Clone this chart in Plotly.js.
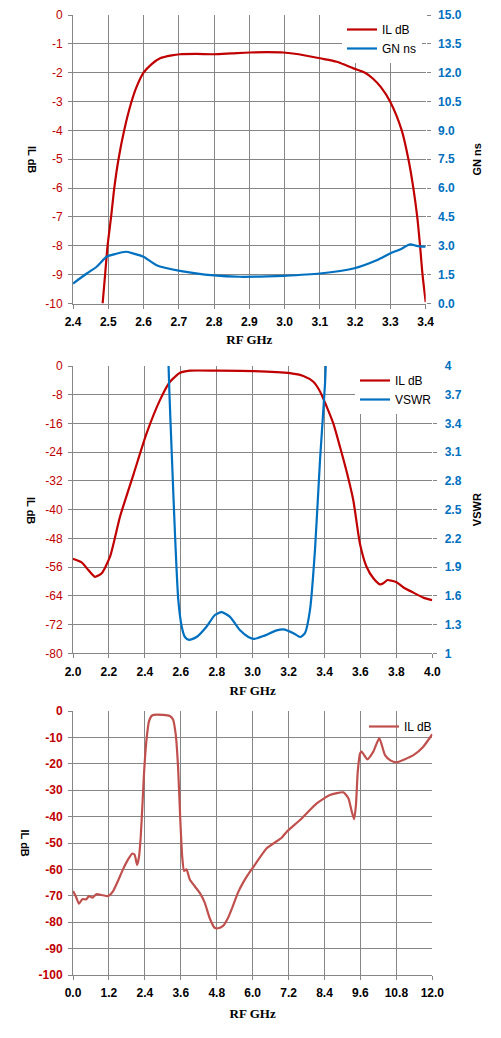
<!DOCTYPE html>
<html>
<head>
<meta charset="utf-8">
<script src="https://cdn.plot.ly/plotly-3.0.1.min.js"></script>
<style>html,body{margin:0;padding:0;background:#fff;}#chart{width:501px;height:1038px;}</style>
</head>
<body>
<div id="chart"></div>
<script>
// ---------- Chart 1: IL dB and GN ns, 2.4 - 3.4 GHz ----------
const il1X = [2.484, 2.491, 2.498, 2.508, 2.517, 2.529, 2.545, 2.566, 2.580, 2.600, 2.623, 2.647, 2.680, 2.703, 2.750, 2.800, 2.850, 2.900, 2.950, 2.996, 3.040, 3.100, 3.148, 3.195, 3.228, 3.250, 3.273, 3.299, 3.332, 3.351, 3.365, 3.376, 3.384, 3.391, 3.400];
const il1Y = [-10.0, -9.0, -8.0, -7.0, -6.0, -5.0, -4.0, -3.0, -2.5, -2.0, -1.7, -1.5, -1.40, -1.36, -1.35, -1.36, -1.33, -1.30, -1.29, -1.30, -1.36, -1.50, -1.62, -1.85, -2.0, -2.2, -2.5, -3.0, -4.0, -5.0, -6.0, -7.0, -8.0, -9.0, -9.95];
const gn1X = [2.400, 2.439, 2.467, 2.495, 2.519, 2.550, 2.571, 2.600, 2.637, 2.703, 2.800, 2.873, 2.950, 2.996, 3.100, 3.195, 3.261, 3.299, 3.327, 3.356, 3.374, 3.400];
const gn1Y = [1.04, 1.56, 1.91, 2.43, 2.57, 2.69, 2.60, 2.43, 1.99, 1.70, 1.46, 1.39, 1.41, 1.44, 1.56, 1.82, 2.25, 2.60, 2.81, 3.07, 3.00, 2.95];

// ---------- Chart 2: IL dB and VSWR, 2.0 - 4.0 GHz ----------
const il2X = [2.000, 2.048, 2.085, 2.122, 2.160, 2.206, 2.262, 2.336, 2.410, 2.484, 2.540, 2.596, 2.651, 2.800, 3.004, 3.208, 3.282, 3.338, 3.375, 3.412, 3.449, 3.486, 3.523, 3.560, 3.597, 3.634, 3.672, 3.709, 3.727, 3.750, 3.774, 3.801, 3.838, 3.894, 3.950, 4.000];
const il2Y = [-53.7, -54.7, -56.8, -58.7, -57.7, -53.1, -41.9, -30.3, -18.7, -9.5, -4.4, -1.9, -1.3, -1.3, -1.4, -2.0, -2.8, -4.4, -7.1, -11.3, -16.0, -22.5, -29.4, -37.3, -49.4, -55.9, -59.1, -60.8, -60.5, -59.6, -59.8, -60.2, -61.6, -63.1, -64.5, -65.2];
const vswrX = [2.527, 2.537, 2.549, 2.568, 2.586, 2.605, 2.623, 2.646, 2.688, 2.744, 2.790, 2.827, 2.874, 2.930, 2.976, 3.007, 3.059, 3.134, 3.171, 3.227, 3.264, 3.291, 3.319, 3.347, 3.375, 3.403, 3.412];
const vswrY = [4.30, 3.70, 3.12, 2.23, 1.56, 1.28, 1.17, 1.14, 1.17, 1.28, 1.40, 1.43, 1.38, 1.24, 1.17, 1.15, 1.18, 1.24, 1.25, 1.21, 1.17, 1.21, 1.45, 2.08, 3.02, 3.82, 4.30];

// ---------- Chart 3: IL dB, 0 - 12 GHz ----------
const il3X = [0.00, 0.09, 0.20, 0.31, 0.45, 0.53, 0.65, 0.78, 1.00, 1.17, 1.34, 1.50, 1.67, 1.84, 1.98, 2.06, 2.14, 2.20, 2.26, 2.32, 2.37, 2.45, 2.54, 2.65, 3.01, 3.23, 3.34, 3.43, 3.51, 3.58, 3.65, 3.71, 3.79, 3.90, 4.06, 4.23, 4.40, 4.56, 4.73, 4.84, 5.01, 5.18, 5.34, 5.51, 5.68, 5.85, 6.01, 6.47, 6.97, 7.14, 7.58, 8.14, 8.58, 9.03, 9.20, 9.31, 9.39, 9.45, 9.51, 9.59, 9.64, 9.83, 10.03, 10.23, 10.42, 10.60, 10.81, 11.37, 11.70, 12.00];
const il3Y = [-68.2, -70.1, -73.0, -71.3, -71.3, -70.1, -70.7, -69.4, -69.8, -70.1, -68.2, -64.4, -60.0, -56.2, -54.0, -54.5, -58.3, -55.6, -48.0, -35.4, -24.0, -11.4, -3.8, -1.6, -1.5, -1.9, -3.2, -8.8, -21.5, -40.4, -55.6, -60.6, -60.0, -63.8, -66.3, -68.8, -72.6, -78.3, -82.1, -82.3, -81.4, -78.3, -73.9, -68.8, -65.0, -61.9, -59.3, -52.0, -48.0, -45.7, -41.3, -35.0, -31.8, -30.8, -33.1, -38.1, -41.0, -35.6, -23.0, -16.0, -15.4, -18.3, -15.4, -10.3, -16.7, -18.7, -19.4, -16.7, -13.5, -8.8];

// ---------- Tick labels ----------
const y1TickVals = [-10, -9, -8, -7, -6, -5, -4, -3, -2, -1, 0];
const y1TickText = ['-10', '-9', '-8', '-7', '-6', '-5', '-4', '-3', '-2', '-1', '0'];
const y2TickVals = [0, 1.5, 3, 4.5, 6, 7.5, 9, 10.5, 12, 13.5, 15];
const y2TickText = ['0.0', '1.5', '3.0', '4.5', '6.0', '7.5', '9.0', '10.5', '12.0', '13.5', '15.0'];
const y3TickVals = [-80, -72, -64, -56, -48, -40, -32, -24, -16, -8, 0];
const y3TickText = ['-80', '-72', '-64', '-56', '-48', '-40', '-32', '-24', '-16', '-8', '0'];
const y4TickVals = [1, 1.3, 1.6, 1.9, 2.2, 2.5, 2.8, 3.1, 3.4, 3.7, 4];
const y4TickText = ['1', '1.3', '1.6', '1.9', '2.2', '2.5', '2.8', '3.1', '3.4', '3.7', '4'];
const y5TickVals = [-100, -90, -80, -70, -60, -50, -40, -30, -20, -10, 0];
const y5TickText = ['-100', '-90', '-80', '-70', '-60', '-50', '-40', '-30', '-20', '-10', '0'];

const RED = '#C00000', BLUE = '#0070C0', RED3 = '#C0504D', GRID = '#868686';
const FONT = 'Liberation Sans, Arial, sans-serif';
const SERIF = 'Liberation Serif, Times New Roman, serif';

const traces = [
  {x: il1X, y: il1Y, xaxis: 'x', yaxis: 'y', name: 'IL dB', mode: 'lines', line: {color: RED, width: 2.2, shape: 'spline', smoothing: 0.7}, legend: 'legend'},
  {x: gn1X, y: gn1Y, xaxis: 'x', yaxis: 'y2', name: 'GN ns', mode: 'lines', line: {color: BLUE, width: 2.2, shape: 'spline', smoothing: 0.7}, legend: 'legend'},
  {x: il2X, y: il2Y, xaxis: 'x2', yaxis: 'y3', name: 'IL dB', mode: 'lines', line: {color: RED, width: 2.2, shape: 'spline', smoothing: 0.6}, legend: 'legend2'},
  {x: vswrX, y: vswrY, xaxis: 'x2', yaxis: 'y4', name: 'VSWR', mode: 'lines', line: {color: BLUE, width: 2.2, shape: 'spline', smoothing: 0.6}, legend: 'legend2'},
  {x: il3X, y: il3Y, xaxis: 'x3', yaxis: 'y5', name: 'IL dB', mode: 'lines', line: {color: RED3, width: 2.2, shape: 'spline', smoothing: 0.5}, legend: 'legend3'}
];

function xAx(dom, anchor, range, dtick, title, standoff) {
  return {
    domain: dom, anchor: anchor, range: range, tick0: range[0], dtick: dtick, tickformat: '.1f',
    showgrid: true, gridcolor: GRID, gridwidth: 1, zeroline: false,
    showline: true, linecolor: GRID, linewidth: 1,
    ticks: 'outside', ticklen: 4, tickcolor: GRID, ticklabelstandoff: 3,
    tickfont: {family: FONT, size: 12, color: '#000', weight: 'bold'},
    title: {text: title, font: {family: SERIF, size: 13, color: '#000', weight: 'bold'}, standoff: standoff},
    fixedrange: true
  };
}
function yLeft(dom, anchor, range, vals, text, bold) {
  return {
    domain: dom, anchor: anchor, range: range, tickvals: vals, ticktext: text,
    showgrid: true, gridcolor: GRID, gridwidth: 1, zeroline: false,
    showline: true, linecolor: GRID, linewidth: 1,
    ticks: 'outside', ticklen: 4, tickcolor: GRID, ticklabelstandoff: 3,
    tickfont: {family: FONT, size: 12, color: RED, weight: bold ? 'bold' : 'normal'},
    fixedrange: true
  };
}
function yRight(over, anchor, range, vals, text, title) {
  return {
    overlaying: over, anchor: anchor, side: 'right', range: range, tickvals: vals, ticktext: text,
    showgrid: false, zeroline: false, showline: false,
    ticks: 'outside', ticklen: 4, tickcolor: GRID, ticklabelstandoff: 5,
    tickfont: {family: FONT, size: 12, color: BLUE, weight: 'bold'},
    title: {text: title, font: {family: FONT, size: 11, color: '#000', weight: 'bold'}, standoff: 12},
    fixedrange: true
  };
}

const D1 = [1 - 303.5 / 1038, 1 - 15 / 1038];
const D2 = [1 - 653.3 / 1038, 1 - 366 / 1038];
const D3 = [1 - 975 / 1038, 1 - 711 / 1038];
const XD1 = [73 / 501, 425.7 / 501];
const XD2 = [73 / 501, 432.3 / 501];

const legendCommon = {bgcolor: '#fff', borderwidth: 0, font: {family: FONT, size: 12, color: '#000'}, xanchor: 'left', yanchor: 'top', tracegroupgap: 0};

const layout = {
  width: 501, height: 1038,
  margin: {l: 0, r: 0, t: 0, b: 0},
  paper_bgcolor: '#fff', plot_bgcolor: '#fff',
  font: {family: FONT, size: 12, color: '#000'},
  showlegend: true,
  xaxis: xAx(XD1, 'y', [2.4, 3.4], 0.1, 'RF GHz', 6),
  yaxis: yLeft(D1, 'x', [-10, 0], y1TickVals, y1TickText, false),
  yaxis2: yRight('y', 'x', [0, 15], y2TickVals, y2TickText, 'GN ns'),
  xaxis2: xAx(XD2, 'y3', [2.0, 4.0], 0.2, 'RF GHz', 8),
  yaxis3: yLeft(D2, 'x2', [-80, 0], y3TickVals, y3TickText, false),
  yaxis4: yRight('y3', 'x2', [1, 4], y4TickVals, y4TickText, 'VSWR'),
  xaxis3: xAx(XD2, 'y5', [0, 12], 1.2, 'RF GHz', 9),
  yaxis5: yLeft(D3, 'x3', [-100, 0], y5TickVals, y5TickText, true),
  legend: Object.assign({}, legendCommon, {x: 342 / 501, y: 1 - 15 / 1038}),
  legend2: Object.assign({}, legendCommon, {x: 355 / 501, y: 1 - 366 / 1038}),
  legend3: Object.assign({}, legendCommon, {x: 364 / 501, y: 1 - 712 / 1038, bgcolor: 'rgba(255,255,255,0)'}),
  annotations: [
    {text: 'IL dB', xref: 'paper', yref: 'paper', x: 32 / 501, y: 1 - 160 / 1038, textangle: 90, showarrow: false, xanchor: 'center', yanchor: 'middle', font: {family: FONT, size: 11, color: '#000', weight: 'bold'}},
    {text: 'IL dB', xref: 'paper', yref: 'paper', x: 31 / 501, y: 1 - 510 / 1038, textangle: 90, showarrow: false, xanchor: 'center', yanchor: 'middle', font: {family: FONT, size: 11, color: '#000', weight: 'bold'}},
    {text: 'IL dB', xref: 'paper', yref: 'paper', x: 24.5 / 501, y: 1 - 843 / 1038, textangle: 90, showarrow: false, xanchor: 'center', yanchor: 'middle', font: {family: FONT, size: 11, color: '#000', weight: 'bold'}}
  ]
};

Plotly.newPlot('chart', traces, layout, {staticPlot: true, displayModeBar: false});
</script>
</body>
</html>
